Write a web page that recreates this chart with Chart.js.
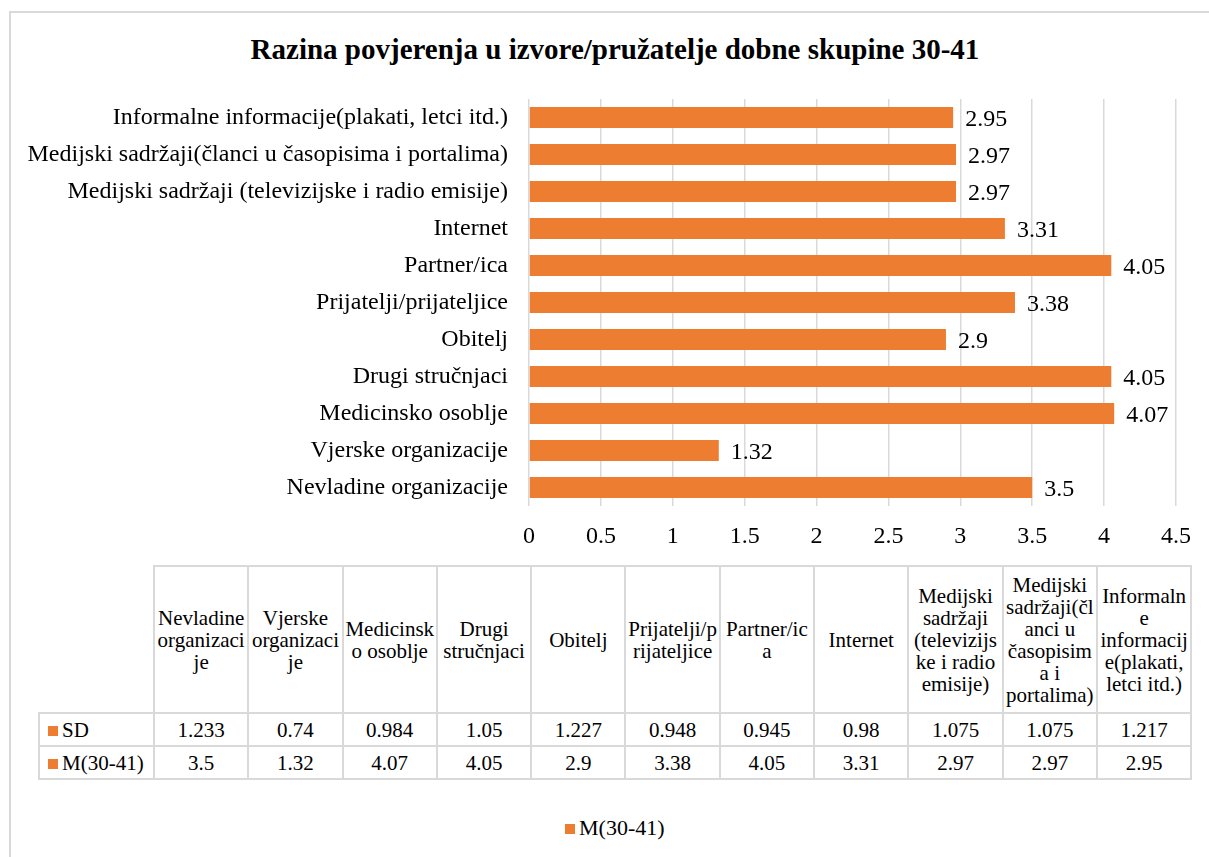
<!DOCTYPE html>
<html>
<head>
    <meta charset="UTF-8">
    <title>Razina povjerenja u izvore/pružatelje dobne skupine 30-41</title>
    <script src="https://cdn.jsdelivr.net/npm/chart.js@4.4.1/dist/chart.umd.min.js"></script>
    <style>
        body {
            margin: 0;
            background: #fff;
            font-family: "Liberation Serif", "Times New Roman", serif;
            color: #000;
            overflow: hidden;
        }
        .frame {
            position: absolute;
            left: 9px;
            top: 11px;
            width: 1230px;
            height: 870px;
            border: 2px solid #d9d9d9;
        }
        .title {
            position: absolute;
            left: 215px;
            width: 800px;
            top: 31px;
            text-align: center;
            font-size: 29px;
            font-weight: bold;
            line-height: 36px;
        }
        #chartCanvas {
            position: absolute;
            left: 0;
            top: 0;
        }
        #dataTable {
            position: absolute;
            left: 38px;
            top: 565px;
            border-collapse: collapse;
            table-layout: fixed;
            font-size: 21px;
        }
        #dataTable td {
            border: 2px solid #d9d9d9;
            text-align: center;
            vertical-align: middle;
            padding: 0;
            line-height: 22px;
            white-space: pre-line;
        }
        #dataTable tr.head td { height: 145px; }
        #dataTable tr.row td { height: 31px; }
        #dataTable td.corner { border-top: none; border-left: none; }
        #dataTable td.lab { text-align: left; padding-left: 8px; }
        .sw {
            display: inline-block;
            width: 10px;
            height: 10px;
            background: #ED7D31;
            margin-right: 4px;
            vertical-align: 1px;
        }
        .legend {
            position: absolute;
            left: 565px;
            top: 815px;
            font-size: 22px;
        }
    </style>
</head>
<body>
<div class="frame"></div>
<div class="title">Razina povjerenja u izvore/pružatelje dobne skupine 30-41</div>
<canvas id="chartCanvas" width="1209" height="560"></canvas>
<table id="dataTable"></table>
<div class="legend"><span class="sw"></span>M(30-41)</div>
<script>
    // Data
    const categories = ['Nevladine organizacije', 'Vjerske organizacije', 'Medicinsko osoblje', 'Drugi stručnjaci',
        'Obitelj', 'Prijatelji/prijateljice', 'Partner/ica', 'Internet',
        'Medijski sadržaji (televizijske i radio emisije)',
        'Medijski sadržaji(članci u časopisima i portalima)',
        'Informalne informacije(plakati, letci itd.)'];
    // same names, wrapped the way the table header shows them
    const tableHeaders = ['Nevladine\norganizaci\nje', 'Vjerske\norganizaci\nje', 'Medicinsk\no osoblje', 'Drugi\nstručnjaci',
        'Obitelj', 'Prijatelji/p\nrijateljice', 'Partner/ic\na', 'Internet',
        'Medijski\nsadržaji\n(televizijs\nke i radio\nemisije)',
        'Medijski\nsadržaji(čl\nanci u\nčasopisim\na i\nportalima)',
        'Informaln\ne\ninformacij\ne(plakati,\nletci itd.)'];
    const meanValues = [3.5, 1.32, 4.07, 4.05, 2.9, 3.38, 4.05, 3.31, 2.97, 2.97, 2.95];
    const sdValues = [1.233, 0.74, 0.984, 1.05, 1.227, 0.948, 0.945, 0.98, 1.075, 1.075, 1.217];
    const xTicks = [0, 0.5, 1, 1.5, 2, 2.5, 3, 3.5, 4, 4.5];

    const FONT = '"Liberation Serif", "Times New Roman", serif';
    const ORANGE = '#ED7D31';

    // value labels at the end of each bar
    const valueLabels = {
        id: 'valueLabels',
        afterDatasetsDraw(chart) {
            const c = chart.ctx;
            const meta = chart.getDatasetMeta(0);
            c.save();
            c.font = '24px ' + FONT;
            c.fillStyle = '#000';
            c.textAlign = 'left';
            c.textBaseline = 'middle';
            meta.data.forEach((bar, i) => {
                c.fillText(String(meanValues[i]), bar.x + 12, bar.y + 2);
            });
            c.restore();
        }
    };

    const ctx = document.getElementById('chartCanvas').getContext('2d');
    new Chart(ctx, {
        type: 'bar',
        data: {
            labels: categories,
            datasets: [{
                label: 'M(30-41)',
                data: meanValues,
                backgroundColor: ORANGE,
                borderWidth: 0,
                barPercentage: 0.57,
                categoryPercentage: 1
            }]
        },
        options: {
            indexAxis: 'y',
            responsive: false,
            animation: false,
            layout: { padding: { left: 0, right: 33, top: 99, bottom: 10 } },
            plugins: {
                legend: { display: false },
                tooltip: { enabled: false }
            },
            scales: {
                x: {
                    min: 0,
                    max: 4.5,
                    afterBuildTicks: scale => { scale.ticks = xTicks.map(v => ({ value: v })); },
                    afterFit: scale => { scale.height = 44; },
                    grid: { color: '#d9d9d9', lineWidth: 1.5, drawTicks: false },
                    border: { display: false },
                    ticks: {
                        color: '#000',
                        padding: 16,
                        maxRotation: 0,
                        font: { family: FONT, size: 24 },
                        callback: v => String(v)
                    }
                },
                y: {
                    reverse: true,
                    afterFit: scale => { scale.width = 529; },
                    grid: { display: false, drawTicks: false },
                    border: { display: false },
                    ticks: {
                        color: '#000',
                        padding: 21,
                        font: { family: FONT, size: 24 }
                    }
                }
            }
        },
        plugins: [valueLabels]
    });

    // data table under the chart
    const table = document.getElementById('dataTable');
    let html = '<colgroup><col style="width:115px">';
    tableHeaders.forEach(() => { html += '<col style="width:94.3px">'; });
    html += '</colgroup><tr class="head"><td class="corner"></td>';
    tableHeaders.forEach(h => { html += '<td>' + h + '</td>'; });
    html += '</tr><tr class="row"><td class="lab"><span class="sw"></span>SD</td>';
    sdValues.forEach(v => { html += '<td>' + v + '</td>'; });
    html += '</tr><tr class="row"><td class="lab"><span class="sw"></span>M(30-41)</td>';
    meanValues.forEach(v => { html += '<td>' + v + '</td>'; });
    html += '</tr>';
    table.innerHTML = html;
</script>
</body>
</html>
